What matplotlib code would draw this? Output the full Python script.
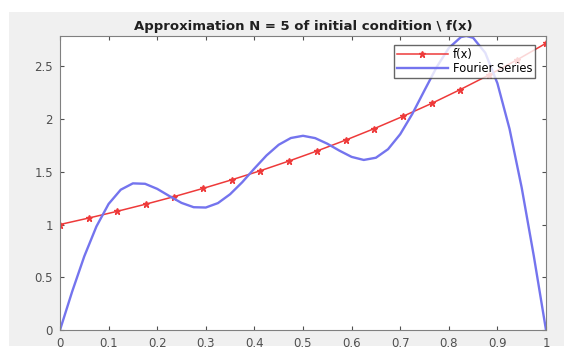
import matplotlib
matplotlib.use('Agg')
import matplotlib.pyplot as plt
from matplotlib.patches import Rectangle

# f(x) samples (red, star markers)
fx_x = [0.0, 0.0588, 0.1176, 0.1765, 0.2353, 0.2941, 0.3529, 0.4118, 0.4706,
        0.5294, 0.5882, 0.6471, 0.7059, 0.7647, 0.8235, 0.8824, 0.9412, 1.0]
fx_y = [1.000, 1.061, 1.125, 1.193, 1.265, 1.342, 1.423, 1.509, 1.601,
        1.698, 1.801, 1.910, 2.026, 2.148, 2.279, 2.417, 2.563, 2.718]

# Fourier series curve (blue)
fs_x = [0.0, 0.025, 0.05, 0.075, 0.1, 0.125, 0.15, 0.175, 0.2, 0.225, 0.25,
        0.275, 0.3, 0.325, 0.35, 0.375, 0.4, 0.425, 0.45, 0.475, 0.5,
        0.525, 0.55, 0.575, 0.6, 0.625, 0.65, 0.675, 0.7, 0.725, 0.75,
        0.775, 0.8, 0.825, 0.836, 0.85, 0.875, 0.9, 0.925, 0.95, 0.975, 1.0]
fs_y = [0.000, 0.364, 0.699, 0.982, 1.195, 1.330, 1.390, 1.386, 1.338, 1.270, 1.205,
        1.164, 1.161, 1.203, 1.287, 1.401, 1.531, 1.655, 1.756, 1.820, 1.841,
        1.819, 1.766, 1.700, 1.641, 1.612, 1.633, 1.714, 1.856, 2.049, 2.272,
        2.492, 2.673, 2.777, 2.787, 2.770, 2.628, 2.339, 1.906, 1.349, 0.699, 0.000]

x_ticks = [0, 0.1, 0.2, 0.3, 0.4, 0.5, 0.6, 0.7, 0.8, 0.9, 1]
y_ticks = [0, 0.5, 1, 1.5, 2, 2.5]

fig = plt.figure(figsize=(5.64, 3.5), dpi=100, facecolor='white')
# grey window background (screenshot area)
fig.patches.append(Rectangle((9 / 564, 4 / 350), 555 / 564, 334 / 350,
                             transform=fig.transFigure, facecolor='#f0f0f0',
                             edgecolor='none', zorder=-10))

ax = fig.add_axes([60 / 564, 20 / 350, 486 / 564, 294 / 350])
ax.plot(fx_x, fx_y, color='#ee3a3a', marker='*', markersize=5, lw=1.1, label='f(x)')
ax.plot(fs_x, fs_y, color='#7474ee', lw=1.7, label='Fourier Series')

ax.set_xlim(0, 1)
ax.set_ylim(0, 2.787)
ax.set_xticks(x_ticks)
ax.set_xticklabels(['0', '0.1', '0.2', '0.3', '0.4', '0.5', '0.6', '0.7', '0.8', '0.9', '1'])
ax.set_yticks(y_ticks)
ax.set_yticklabels(['0', '0.5', '1', '1.5', '2', '2.5'])
ax.tick_params(direction='in', top=True, right=True, labelsize=8.5,
               colors='#505050', length=3, pad=5)
for s in ax.spines.values():
    s.set_color('#808080')

ax.set_title('Approximation N = 5 of initial condition \\ f(x)', fontsize=9.5,
             fontweight='bold', color='#202020', pad=4)

leg = ax.legend(loc='upper right', bbox_to_anchor=(0.978, 0.97), fontsize=8.3,
                frameon=True, fancybox=False, handlelength=4.4,
                borderpad=0.25, labelspacing=0.1, handletextpad=0.45,
                borderaxespad=0.0)
leg.get_frame().set_edgecolor('#404040')
leg.get_frame().set_linewidth(1.0)

fig.savefig('out.png', dpi=100, facecolor=fig.get_facecolor())
